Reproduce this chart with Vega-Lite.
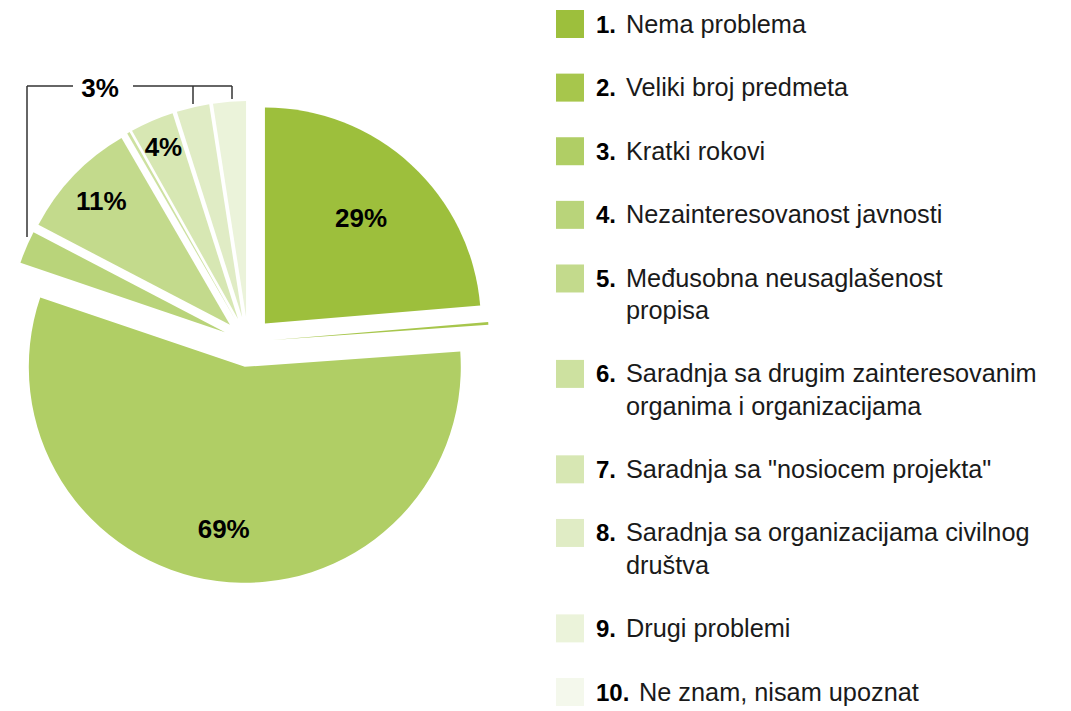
{
  "$schema": "https://vega.github.io/schema/vega-lite/v6.json",
  "background": "white",
  "padding": 0,
  "spacing": 0,
  "config": {"view": {"stroke": null}, "font": "Liberation Sans"},
  "datasets": {
    "items": [
      {"item": 1, "num": "1.", "label": "Nema problema", "value": 29, "pct": "29%"},
      {"item": 2, "num": "2.", "label": "Veliki broj predmeta", "value": 0.25, "pct": ""},
      {"item": 3, "num": "3.", "label": "Kratki rokovi", "value": 69, "pct": "69%"},
      {"item": 4, "num": "4.", "label": "Nezainteresovanost javnosti", "value": 3, "pct": ""},
      {"item": 5, "num": "5.", "label": "Međusobna neusaglašenost\npropisa", "value": 11, "pct": "11%"},
      {"item": 6, "num": "6.", "label": "Saradnja sa drugim zainteresovanim\norganima i organizacijama", "value": 0.25, "pct": ""},
      {"item": 7, "num": "7.", "label": "Saradnja sa \"nosiocem projekta\"", "value": 4, "pct": "4%"},
      {"item": 8, "num": "8.", "label": "Saradnja sa organizacijama civilnog\ndruštva", "value": 3, "pct": ""},
      {"item": 9, "num": "9.", "label": "Drugi problemi", "value": 3, "pct": ""},
      {"item": 10, "num": "10.", "label": "Ne znam, nisam upoznat", "value": 0, "pct": ""}
    ]
  },
  "hconcat": [
    {
      "width": 540,
      "height": 711,
      "layer": [
        {
          "data": {"name": "items"},
          "transform": [
            {"window": [{"op": "sum", "field": "value", "as": "cum"}], "sort": [{"field": "item"}], "frame": [null, 0]},
            {"joinaggregate": [{"op": "sum", "field": "value", "as": "total"}]},
            {"calculate": "(datum.cum - datum.value) / datum.total", "as": "t0"},
            {"calculate": "datum.cum / datum.total", "as": "t1"},
            {"calculate": "(datum.t0 + datum.t1) / 2", "as": "tm"},
            {"calculate": "25 * sin(2 * PI * datum.tm)", "as": "dx"},
            {"calculate": "-25 * cos(2 * PI * datum.tm)", "as": "dy"}
          ],
          "layer": [
            {
              "mark": {"type": "arc", "radius": 216},
              "encoding": {
                "theta": {"field": "t0", "type": "quantitative", "scale": {"domain": [0, 1], "range": [0, 6.283185307179586], "zero": false, "nice": false}},
                "theta2": {"field": "t1"},
                "x": {"field": "dx", "type": "quantitative", "scale": {"domain": [-248, 292], "nice": false, "zero": false}, "axis": null},
                "y": {"field": "dy", "type": "quantitative", "scale": {"domain": [-342, 369], "reverse": true, "nice": false, "zero": false}, "axis": null},
                "color": {"field": "item", "type": "ordinal", "scale": {"domain": [1, 2, 3, 4, 5, 6, 7, 8, 9, 10], "range": ["#9dbf3c", "#a7c64c", "#b0ce65", "#b9d47a", "#c3da8c", "#cde1a0", "#d7e7b3", "#e0ecc5", "#ebf3da", "#f4f8ec"]}, "legend": null}
              }
            },
            {
              "transform": [{"filter": "datum.item == 1"}],
              "mark": {"type": "text", "radius": 142, "fontSize": 26, "fontWeight": "bold", "color": "#000", "align": "center", "baseline": "middle"},
              "encoding": {
                "theta": {"field": "tm", "type": "quantitative"},
                "x": {"field": "dx", "type": "quantitative"},
                "y": {"field": "dy", "type": "quantitative"},
                "text": {"field": "pct"}
              }
            },
            {
              "transform": [{"filter": "datum.item == 3"}],
              "mark": {"type": "text", "radius": 165, "fontSize": 26, "fontWeight": "bold", "color": "#000", "align": "center", "baseline": "middle"},
              "encoding": {
                "theta": {"field": "tm", "type": "quantitative"},
                "x": {"field": "dx", "type": "quantitative"},
                "y": {"field": "dy", "type": "quantitative"},
                "text": {"field": "pct"}
              }
            },
            {
              "transform": [{"filter": "datum.item == 5"}],
              "mark": {"type": "text", "radius": 178, "fontSize": 26, "fontWeight": "bold", "color": "#000", "align": "center", "baseline": "middle"},
              "encoding": {
                "theta": {"field": "tm", "type": "quantitative"},
                "x": {"field": "dx", "type": "quantitative"},
                "y": {"field": "dy", "type": "quantitative"},
                "text": {"field": "pct"}
              }
            },
            {
              "transform": [{"filter": "datum.item == 7"}],
              "mark": {"type": "text", "radius": 187, "fontSize": 26, "fontWeight": "bold", "color": "#000", "align": "center", "baseline": "middle"},
              "encoding": {
                "theta": {"field": "tm", "type": "quantitative"},
                "x": {"field": "dx", "type": "quantitative"},
                "y": {"field": "dy", "type": "quantitative"},
                "text": {"field": "pct"}
              }
            }
          ]
        },
        {
          "data": {"values": [{}]},
          "mark": {"type": "rule", "color": "#333333", "strokeWidth": 1.5},
          "encoding": {"x": {"datum": -221, "type": "quantitative"}, "y": {"datum": -256, "type": "quantitative"}, "y2": {"datum": -105}}
        },
        {
          "data": {"values": [{}]},
          "mark": {"type": "rule", "color": "#333333", "strokeWidth": 1.5},
          "encoding": {"x": {"datum": -221, "type": "quantitative"}, "x2": {"datum": -175}, "y": {"datum": -256, "type": "quantitative"}}
        },
        {
          "data": {"values": [{}]},
          "mark": {"type": "rule", "color": "#333333", "strokeWidth": 1.5},
          "encoding": {"x": {"datum": -115, "type": "quantitative"}, "x2": {"datum": -16}, "y": {"datum": -256, "type": "quantitative"}}
        },
        {
          "data": {"values": [{}]},
          "mark": {"type": "rule", "color": "#333333", "strokeWidth": 1.5},
          "encoding": {"x": {"datum": -55, "type": "quantitative"}, "y": {"datum": -256, "type": "quantitative"}, "y2": {"datum": -238}}
        },
        {
          "data": {"values": [{}]},
          "mark": {"type": "rule", "color": "#333333", "strokeWidth": 1.5},
          "encoding": {"x": {"datum": -16, "type": "quantitative"}, "y": {"datum": -256, "type": "quantitative"}, "y2": {"datum": -243}}
        },
        {
          "data": {"values": [{}]},
          "mark": {"type": "text", "fontSize": 26, "fontWeight": "bold", "color": "#000", "align": "center", "baseline": "middle"},
          "encoding": {"x": {"datum": -148, "type": "quantitative"}, "y": {"datum": -253, "type": "quantitative"}, "text": {"value": "3%"}}
        }
      ]
    },
    {
      "width": 531,
      "height": 711,
      "data": {"name": "items"},
      "encoding": {
        "y": {"field": "item", "type": "ordinal", "axis": null, "scale": {"type": "point", "padding": 0, "domain": [1, 101, 2, 102, 3, 103, 4, 104, 5, 105, 106, 6, 107, 108, 7, 109, 8, 110, 111, 9, 112, 10], "range": [24, 692]}}
      },
      "layer": [
        {
          "mark": {"type": "square", "size": 784, "filled": true, "opacity": 1},
          "encoding": {
            "x": {"value": 30},
            "color": {"field": "item", "type": "ordinal", "scale": {"domain": [1, 2, 3, 4, 5, 6, 7, 8, 9, 10], "range": ["#9dbf3c", "#a7c64c", "#b0ce65", "#b9d47a", "#c3da8c", "#cde1a0", "#d7e7b3", "#e0ecc5", "#ebf3da", "#f4f8ec"]}, "legend": null}
          }
        },
        {
          "mark": {"type": "text", "align": "left", "baseline": "alphabetic", "dy": 8.5, "fontSize": 24, "fontWeight": "bold", "color": "#000"},
          "encoding": {"x": {"value": 56}, "text": {"field": "num"}}
        },
        {
          "transform": [{"filter": "datum.item < 10"}],
          "mark": {"type": "text", "align": "left", "baseline": "alphabetic", "dy": 8.5, "fontSize": 25.3, "color": "#1a1a1a", "lineBreak": "\n", "lineHeight": 32.5},
          "encoding": {"x": {"value": 86}, "text": {"field": "label"}}
        },
        {
          "transform": [{"filter": "datum.item == 10"}],
          "mark": {"type": "text", "align": "left", "baseline": "alphabetic", "dy": 8.5, "fontSize": 25.3, "color": "#1a1a1a"},
          "encoding": {"x": {"value": 99}, "text": {"field": "label"}}
        }
      ]
    }
  ]
}
